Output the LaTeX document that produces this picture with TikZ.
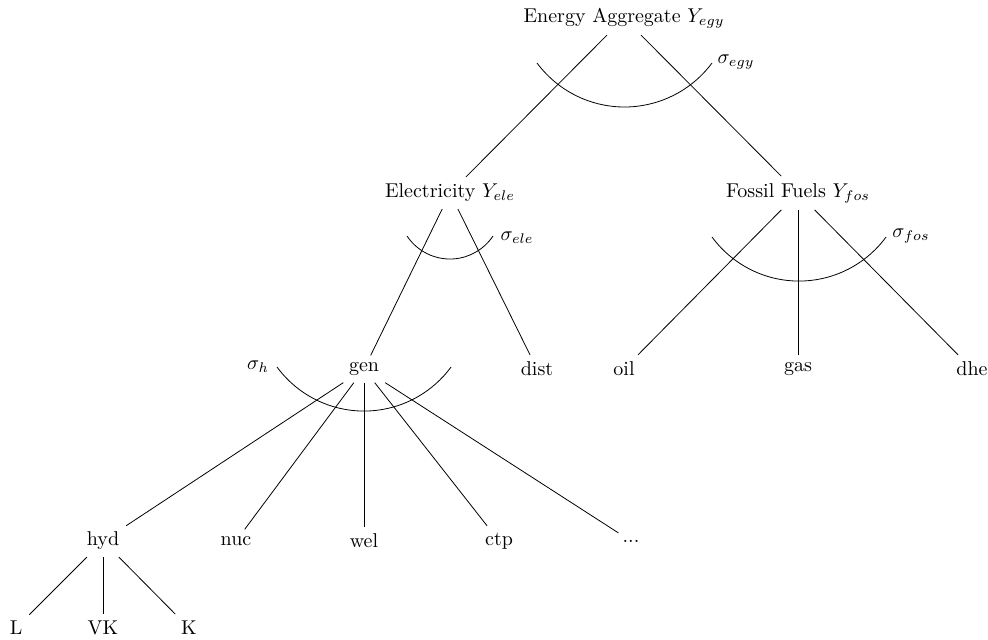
\documentclass[tikz,border=0pt]{standalone}
\usetikzlibrary{calc}
\begin{document}
\begin{tikzpicture}[x=0.5pt,y=0.5pt,
  lbl/.style={inner sep=0.3333em},
  conn/.style={draw=black,line width=0.4pt},
  elast/.style={draw=black,line width=0.4pt}]
\useasboundingbox (0,0) rectangle (988,639);
% nodes
\node[lbl] (egy) at (624,621) {Energy Aggregate $Y_{egy}$};
\node[lbl] (ele) at (450,446) {Electricity $Y_{ele}$};
\node[lbl] (fos) at (798,446) {Fossil Fuels $Y_{fos}$};
\node[lbl] (gen) at (364,270) {gen};
\node[lbl] (dist) at (537,270) {dist};
\node[lbl] (oil) at (624,270) {oil};
\node[lbl] (gas) at (798,270) {gas};
\node[lbl] (dhe) at (972,270) {dhe};
\node[lbl] (hyd) at (103,98) {hyd};
\node[lbl] (nuc) at (236,98) {nuc};
\node[lbl] (wel) at (364,98) {wel};
\node[lbl] (ctp) at (499,98) {ctp};
\node[lbl] (more) at (631,98) {...};
\node[lbl] (L) at (16,11) {L};
\node[lbl] (VK) at (103,11) {VK};
\node[lbl] (K) at (189,11) {K};
% connectors
\draw[conn] (egy) -- (ele);
\draw[conn] (egy) -- (fos);
\draw[conn] (ele) -- (gen);
\draw[conn] (ele) -- (dist);
\draw[conn] (fos) -- (oil);
\draw[conn] (fos) -- (gas);
\draw[conn] (fos) -- (dhe);
\draw[conn] (gen) -- (hyd);
\draw[conn] (gen) -- (nuc);
\draw[conn] (gen) -- (wel);
\draw[conn] (gen) -- (ctp);
\draw[conn] (gen) -- (more);
\draw[conn] (hyd) -- (L);
\draw[conn] (hyd) -- (VK);
\draw[conn] (hyd) -- (K);
% elasticity arcs
\draw[elast] ($(egy)+(-87,-45)$) arc[start angle=216.6, end angle=323.4, radius=109];
\draw[elast] ($(ele)+(-43,-43)$) arc[start angle=213.7, end angle=326.3, radius=51.7];
\draw[elast] ($(fos)+(-86,-44)$) arc[start angle=216.3, end angle=323.7, radius=108];
\draw[elast] ($(gen)+(-87,2)$) arc[start angle=216.3, end angle=323.7, radius=108];
% elasticity labels
\node[lbl] (segy) at (736,577) {$\sigma_{egy}$};
\node[lbl] (sele) at (517,401) {$\sigma_{ele}$};
\node[lbl] (sfos) at (911,403) {$\sigma_{fos}$};
\node[lbl] (sh) at (258,272) {$\sigma_{h}$};
\end{tikzpicture}
\end{document}
